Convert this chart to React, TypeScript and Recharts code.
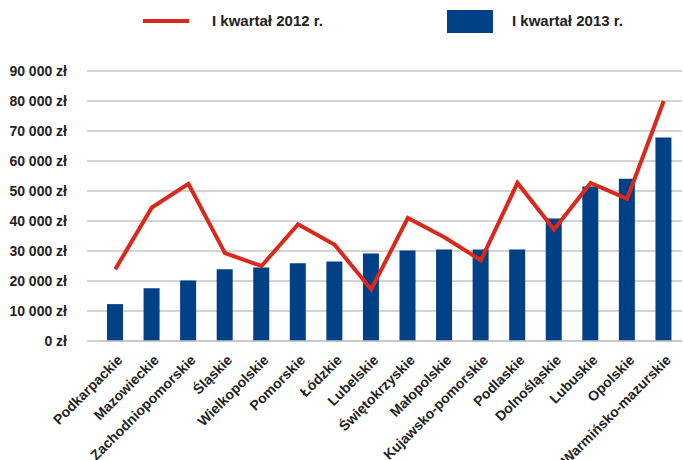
import React from 'react'
import {
  ComposedChart,
  Bar,
  Line,
  XAxis,
  YAxis,
  CartesianGrid,
} from 'recharts'

const regions = [
  'Podkarpackie',
  'Mazowieckie',
  'Zachodniopomorskie',
  'Śląskie',
  'Wielkopolskie',
  'Pomorskie',
  'Łódzkie',
  'Lubelskie',
  'Świętokrzyskie',
  'Małopolskie',
  'Kujawsko-pomorskie',
  'Podlaskie',
  'Dolnośląskie',
  'Lubuskie',
  'Opolskie',
  'Warmińsko-mazurskie',
]

const q1_2013 = [
  12300, 17600, 20200, 23900, 24500, 25900, 26500, 29200,
  30200, 30500, 30500, 30500, 40800, 51500, 54100, 67800,
]

const q1_2012 = [
  23900, 44500, 52400, 29300, 25000, 38900, 32100, 17200,
  41000, 34600, 26900, 52700, 37200, 52700, 47400, 80000,
]

const yTicks = [0, 10000, 20000, 30000, 40000, 50000, 60000, 70000, 80000, 90000]

const seriesLine = 'I kwartał 2012 r.'
const seriesBar = 'I kwartał 2013 r.'

const FONT = '"Liberation Sans", Arial, sans-serif'
const RED = '#da291c'
const BLUE = '#004086'
const GRID = '#c6c6c6'
const TEXT = '#222222'

const data = regions.map((name, i) => ({
  name,
  q2013: q1_2013[i],
  q2012: q1_2012[i],
}))

function formatZl(v: number) {
  const s = String(v).replace(/\B(?=(\d{3})+(?!\d))/g, ' ')
  return `${s} zł`
}

function XTick({ x, y, payload }: { x?: number; y?: number; payload?: { value: string } }) {
  return (
    <g transform={`translate(${(x ?? 0) + 8},${(y ?? 0) + 20})`}>
      <text
        textAnchor="end"
        transform="rotate(-45)"
        fontSize={14}
        fontWeight="bold"
        fontFamily={FONT}
        fill={TEXT}
      >
        {payload?.value}
      </text>
    </g>
  )
}

export default function App() {
  return (
    <div
      style={{
        position: 'absolute',
        left: 0,
        top: 0,
        width: 683,
        height: 460,
        background: '#fff',
        fontFamily: FONT,
      }}
    >
      {/* legenda */}
      <div style={{ position: 'absolute', left: 143, top: 19, width: 46, height: 4, background: RED }} />
      <div
        style={{
          position: 'absolute',
          left: 212,
          top: 12,
          fontSize: 15,
          fontWeight: 'bold',
          color: TEXT,
          lineHeight: '18px',
          whiteSpace: 'nowrap',
        }}
      >
        {seriesLine}
      </div>
      <div style={{ position: 'absolute', left: 447, top: 10, width: 46, height: 23, background: BLUE }} />
      <div
        style={{
          position: 'absolute',
          left: 512,
          top: 12,
          fontSize: 15,
          fontWeight: 'bold',
          color: TEXT,
          lineHeight: '18px',
          whiteSpace: 'nowrap',
        }}
      >
        {seriesBar}
      </div>

      <ComposedChart
        width={683}
        height={460}
        data={data}
        margin={{ top: 71, right: 1, left: 0, bottom: 0 }}
      >
        <CartesianGrid vertical={false} stroke={GRID} strokeWidth={1.5} />
        <XAxis
          dataKey="name"
          height={119}
          interval={0}
          tickLine={false}
          tickSize={0}
          tickMargin={0}
          axisLine={{ stroke: GRID, strokeWidth: 1.5 }}
          tick={<XTick />}
        />
        <YAxis
          width={97}
          domain={[0, 90000]}
          ticks={yTicks}
          interval={0}
          axisLine={false}
          tickLine={{ stroke: GRID, strokeWidth: 1.5 }}
          tickSize={10}
          tickMargin={20}
          tickFormatter={formatZl}
          tick={{ fontSize: 14, fontWeight: 'bold', fill: TEXT, fontFamily: FONT }}
        />
        <Bar dataKey="q2013" name={seriesBar} fill={BLUE} barSize={16} isAnimationActive={false} />
        <Line
          dataKey="q2012"
          name={seriesLine}
          type="linear"
          stroke={RED}
          strokeWidth={4}
          dot={false}
          activeDot={false}
          isAnimationActive={false}
        />
      </ComposedChart>
    </div>
  )
}
